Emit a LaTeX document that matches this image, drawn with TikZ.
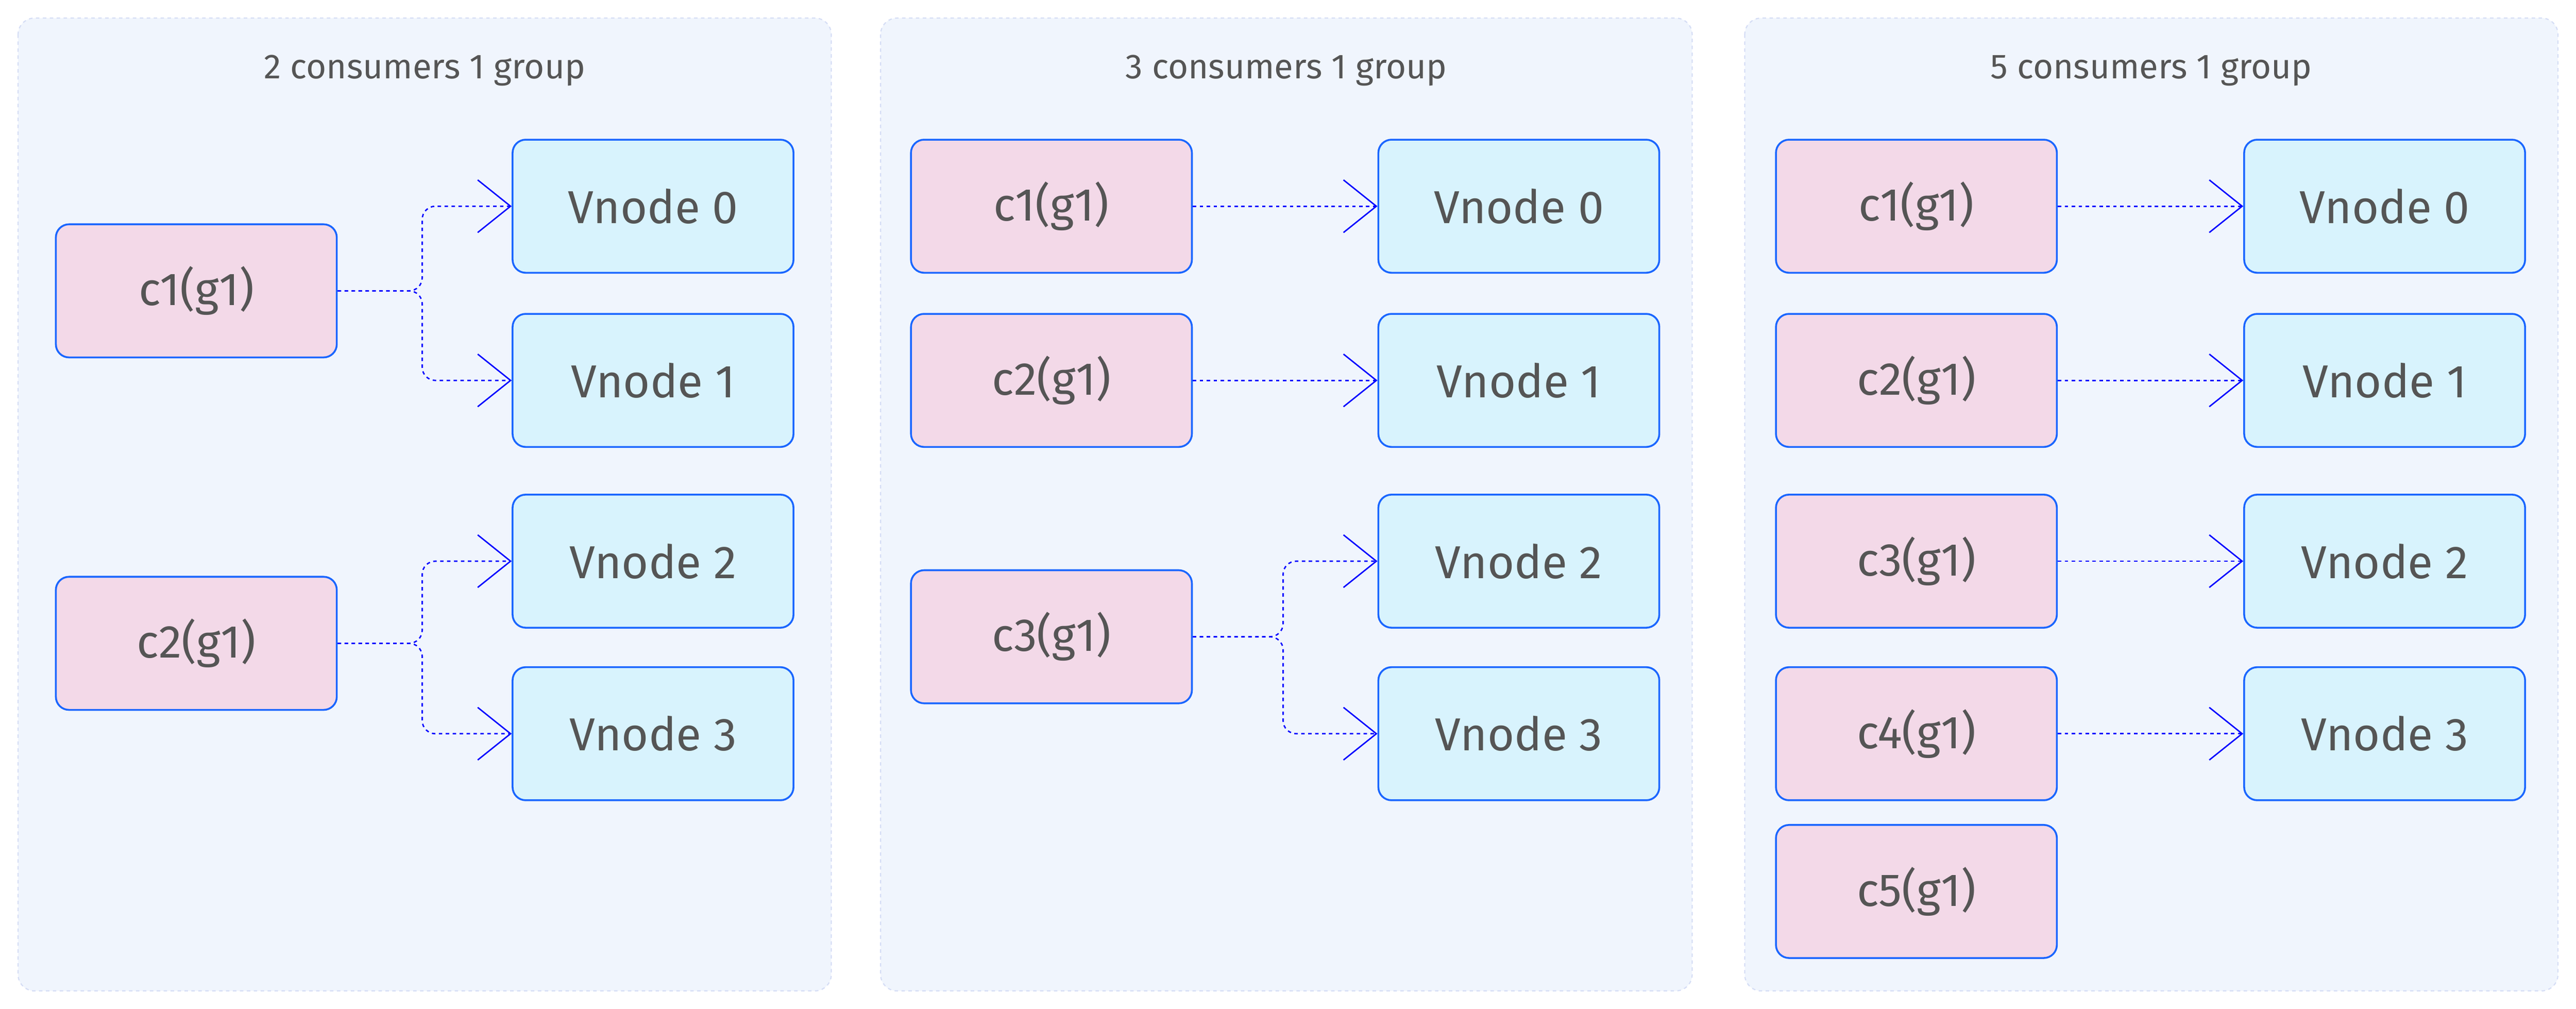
\documentclass[tikz,border=0pt]{standalone}
\usepackage{fontspec}
\setmainfont{Fira Sans}
\usetikzlibrary{arrows.meta}
\definecolor{panelfill}{HTML}{F0F5FD}
\definecolor{paneldraw}{HTML}{D5DDF5}
\definecolor{consfill}{HTML}{F3D9E8}
\definecolor{vnodefill}{HTML}{D8F3FD}
\definecolor{boxdraw}{HTML}{1A66FF}
\definecolor{txt}{HTML}{555555}
\begin{document}
\begin{tikzpicture}[x=0.05cm, y=-0.05cm]
\tikzstyle{panel} = [draw=paneldraw, fill=panelfill, dashed, line width=1pt, rounded corners=0.5cm]
\tikzstyle{title} = [text=txt, font=\fontsize{30}{36}\selectfont]
\tikzstyle{cons} = [draw=boxdraw, fill=consfill, line width=1.6pt, rounded corners=0.4cm, minimum width=8.55cm, minimum height=4.05cm, text=txt, font=\fontsize{40}{48}\selectfont]
\tikzstyle{vnode} = [cons, fill=vnodefill]
\tikzstyle{link} = [draw=blue, dashed, line width=1.2pt, rounded corners=0.4cm, -{Straight Barb[length=1cm, width=1.6cm, line width=1.2pt]}]
\useasboundingbox (0,0) rectangle (1568,614);
% panels
\draw[panel] (11,11) rectangle (506,603);
\draw[panel] (536,11) rectangle (1030,603);
\draw[panel] (1062,11) rectangle (1557,603);
\node[title] (t1) at (258.5,43) {2 consumers 1 group};
\node[title] (t2) at (783,43) {3 consumers 1 group};
\node[title] (t3) at (1309.5,43) {5 consumers 1 group};
% panel 1
\node[cons] (ac1) at (119.5,177) {c1(g1)};
\node[cons] (ac2) at (119.5,391.5) {c2(g1)};
\node[vnode] (av0) at (397.5,125.5) {Vnode 0};
\node[vnode] (av1) at (397.5,231.5) {Vnode 1};
\node[vnode] (av2) at (397.5,341.5) {Vnode 2};
\node[vnode] (av3) at (397.5,446.5) {Vnode 3};
\coordinate (am1) at (257,177);
\coordinate (am2) at (257,391.5);
\draw[link] (ac1.east) -- (am1) |- (av0.west);
\draw[link] (ac1.east) -- (am1) |- (av1.west);
\draw[link] (ac2.east) -- (am2) |- (av2.west);
\draw[link] (ac2.east) -- (am2) |- (av3.west);
% panel 2
\node[cons] (bc1) at (640,125.5) {c1(g1)};
\node[cons] (bc2) at (640,231.5) {c2(g1)};
\node[cons] (bc3) at (640,387.5) {c3(g1)};
\node[vnode] (bv0) at (924.5,125.5) {Vnode 0};
\node[vnode] (bv1) at (924.5,231.5) {Vnode 1};
\node[vnode] (bv2) at (924.5,341.5) {Vnode 2};
\node[vnode] (bv3) at (924.5,446.5) {Vnode 3};
\coordinate (bm3) at (781,387.5);
\draw[link] (bc1) -- (bv0);
\draw[link] (bc2) -- (bv1);
\draw[link] (bc3.east) -- (bm3) |- (bv2.west);
\draw[link] (bc3.east) -- (bm3) |- (bv3.west);
% panel 3
\foreach \i/\y in {1/125.5, 2/231.5, 3/341.5, 4/446.5, 5/542.5}
  \node[cons] (cc\i) at (1166.5,\y) {c\i(g1)};
\foreach \i/\y in {0/125.5, 1/231.5, 2/341.5, 3/446.5}
  \node[vnode] (cv\i) at (1451.5,\y) {Vnode \i};
\foreach \i/\j in {1/0, 2/1, 3/2, 4/3}
  \draw[link] (cc\i) -- (cv\j);
\end{tikzpicture}
\end{document}
